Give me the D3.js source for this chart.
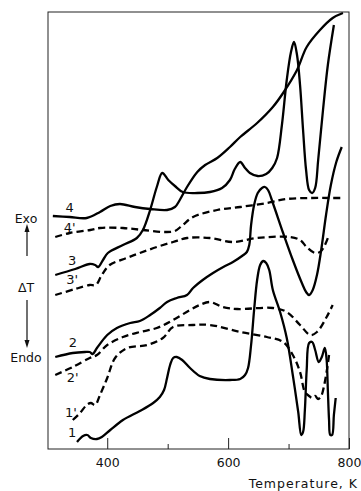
<!DOCTYPE html>
<html>
<head>
<meta charset="utf-8">
<script src="https://cdn.jsdelivr.net/npm/d3@7"></script>
<style>
  html, body { margin: 0; padding: 0; background: #fff; }
  svg { display: block; }
  text { font-family: "DejaVu Sans", sans-serif; fill: #111; }
</style>
</head>
<body>
<svg id="chart" width="361" height="491"></svg>
<script>
// DTA traces: [temperature K, ΔT (arbitrary units, offset per trace)]
const curve1 = [[350,7],[360,13],[367,14],[373,11],[383,10],[391,12],[405,19],[426,29],[454,38],[476,46],[487,52],[494,59],[499,71],[504,84],[509,91],[515,92],[524,89],[537,81],[553,73],[570,70],[603,69],[620,70],[628,74],[633,81],[638,104],[643,139],[648,169],[653,184],[658,188],[663,186],[668,179],[674,159],[686,137],[697,111],[707,74],[716,37],[721,14],[724,17],[727,39],[730,79],[734,106],[739,107],[744,99],[750,87],[755,92],[760,101],[763,89],[765,59],[767,29],[769,14],[772,14],[775,34],[778,51]];
const curve1p = [[343,29],[355,36],[366,44],[373,46],[380,44],[388,54],[400,71],[413,91],[433,101],[466,104],[492,111],[509,122],[542,124],[570,124],[620,117],[664,112],[691,107],[707,94],[719,77],[727,57],[734,53],[739,51],[744,53],[749,50],[754,53],[759,64],[764,81],[767,94]];
const curve2 = [[314,92],[343,96],[363,97],[371,97],[376,95],[383,101],[400,114],[416,121],[438,126],[454,128],[471,134],[487,141],[499,147],[515,151],[532,154],[542,161],[558,169],[575,176],[592,182],[608,187],[623,193],[631,197],[635,204],[638,224],[643,244],[649,256],[656,261],[661,262],[666,259],[674,246],[691,216],[707,189],[722,166],[729,157],[734,154],[740,159],[747,174],[754,199],[762,234],[770,264],[779,287],[788,302]];
const curve2p = [[314,74],[343,82],[371,91],[383,94],[400,104],[426,112],[454,117],[482,121],[509,129],[537,139],[553,144],[570,147],[591,142],[615,140],[674,141],[697,137],[719,124],[736,114],[747,117],[763,132],[773,144]];
const curve3 = [[314,174],[347,180],[371,185],[380,184],[385,182],[393,189],[401,196],[426,204],[449,211],[459,219],[471,239],[482,262],[491,276],[501,269],[512,263],[525,257],[549,256],[570,257],[590,261],[603,269],[611,280],[620,287],[628,281],[636,276],[649,273],[663,275],[673,281],[681,291],[689,324],[697,369],[704,397],[709,407],[714,394],[719,364],[724,319],[729,279],[734,259],[739,256],[744,261],[749,289],[757,339],[765,384],[775,424]];
const curve3p = [[314,154],[347,160],[371,164],[381,164],[391,174],[404,184],[432,191],[454,196],[482,202],[509,207],[532,211],[570,211],[608,207],[648,211],[702,212],[719,209],[730,202],[744,196],[754,198],[765,211]];
const curve4 = [[310,233],[338,232],[366,231],[388,237],[405,243],[421,245],[446,242],[471,240],[499,239],[512,242],[520,249],[532,262],[549,277],[562,284],[582,291],[603,302],[620,312],[648,326],[674,342],[691,356],[714,379],[730,402],[752,419],[773,431],[790,436]];
const curve4p = [[314,212],[338,216],[372,219],[388,221],[426,221],[459,219],[496,217],[512,218],[525,224],[542,232],[582,239],[620,242],[664,246],[697,250],[736,251],[774,251],[790,251]];

// Trace labels: [label, temperature K, ΔT] (label centred just above the trace start)
const traceLabels = [["4",338,242],["4'",338,222],["3",342,189],["3'",342,170],["2",343,107],["2'",343,72],["1'",340,37],["1",342,17]];

const majorTicks = [400, 600, 800];
const minorTicks = [500, 700];
const xTitle = "Temperature, K";

const series = [
  { data: curve1, dashed: false },
  { data: curve1p, dashed: true },
  { data: curve2, dashed: false },
  { data: curve2p, dashed: true },
  { data: curve3, dashed: false },
  { data: curve3p, dashed: true },
  { data: curve4, dashed: false },
  { data: curve4p, dashed: true }
];

const svg = d3.select("#chart");
const frameLeft = 48, frameRight = 349, frameTop = 12, frameBottom = 449;

const x = d3.scaleLinear().domain([302, 800]).range([frameLeft, frameRight]);
const y = d3.scaleLinear().domain([0, 437]).range([frameBottom, frameTop]);

// plot frame
svg.append("rect")
  .attr("x", frameLeft).attr("y", frameTop)
  .attr("width", frameRight - frameLeft).attr("height", frameBottom - frameTop)
  .attr("fill", "none").attr("stroke", "#222").attr("stroke-width", 1);

// inward ticks on the temperature axis
const axis = svg.append("g").attr("transform", `translate(0,${frameBottom})`)
  .call(d3.axisBottom(x).tickValues(majorTicks).tickSize(-11).tickPadding(9).tickFormat(d3.format("d")));
axis.select(".domain").remove();
axis.selectAll("line").attr("stroke", "#222").attr("stroke-width", 1);
axis.selectAll("text").attr("font-size", 12.5).attr("font-family", "DejaVu Sans, sans-serif").attr("fill", "#111");

const minor = svg.append("g").attr("transform", `translate(0,${frameBottom})`)
  .call(d3.axisBottom(x).tickValues(minorTicks).tickSize(-5).tickFormat(""));
minor.select(".domain").remove();
minor.selectAll("line").attr("stroke", "#222").attr("stroke-width", 1);

svg.append("text")
  .attr("x", 358).attr("y", 488)
  .attr("text-anchor", "end")
  .attr("font-size", 12.5)
  .attr("letter-spacing", 1)
  .text(xTitle);

// traces
const line = d3.line()
  .x(d => x(d[0]))
  .y(d => y(d[1]))
  .curve(d3.curveCatmullRom.alpha(0.5));

svg.append("g").selectAll("path")
  .data(series)
  .join("path")
  .attr("d", d => line(d.data))
  .attr("fill", "none")
  .attr("stroke", "#000")
  .attr("stroke-width", 2.3)
  .attr("stroke-linejoin", "round")
  .attr("stroke-linecap", "butt")
  .attr("stroke-dasharray", d => d.dashed ? "7,4" : null);

svg.append("g").selectAll("text")
  .data(traceLabels)
  .join("text")
  .attr("x", d => x(d[1]))
  .attr("y", d => y(d[2]))
  .attr("dy", "0.35em")
  .attr("text-anchor", "middle")
  .attr("font-size", 13)
  .text(d => d[0]);

// Exo / ΔT / Endo legend with arrows
const legendX = 27;
svg.append("text").attr("x", 26).attr("y", 223).attr("text-anchor", "middle").attr("font-size", 12.5).text("Exo");
svg.append("text").attr("x", 26).attr("y", 292).attr("text-anchor", "middle").attr("font-size", 12.5).text("ΔT");
svg.append("text").attr("x", 26).attr("y", 362).attr("text-anchor", "middle").attr("font-size", 12.5).text("Endo");

svg.append("line").attr("x1", legendX).attr("x2", legendX).attr("y1", 230).attr("y2", 256)
  .attr("stroke", "#111").attr("stroke-width", 1.2);
svg.append("path").attr("d", `M${legendX},224 L${legendX - 2.5},232 L${legendX + 2.5},232 Z`).attr("fill", "#111");

svg.append("line").attr("x1", legendX).attr("x2", legendX).attr("y1", 300).attr("y2", 341)
  .attr("stroke", "#111").attr("stroke-width", 1.2);
svg.append("path").attr("d", `M${legendX},348 L${legendX - 2.5},340 L${legendX + 2.5},340 Z`).attr("fill", "#111");
</script>
</body>
</html>
